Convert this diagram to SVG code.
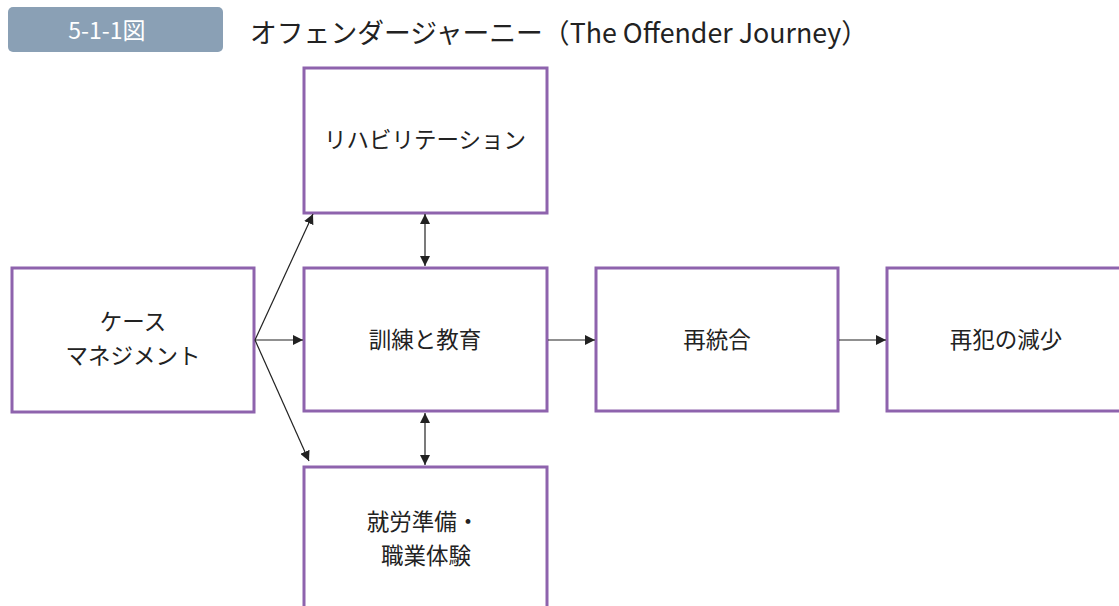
<svg xmlns="http://www.w3.org/2000/svg" width="1119" height="606" viewBox="0 0 1119 606">
<style>
.box{fill:#fff;stroke:#8e63ad;stroke-width:3}
.t{font-family:"Noto Sans CJK JP","Noto Sans",sans-serif;font-size:22.5px;fill:#222;text-anchor:middle}
.c{stroke:#222;stroke-width:1.2;fill:none}
</style>
<defs>
<marker id="ah" viewBox="0 0 10 10" refX="10" refY="5" markerWidth="10" markerHeight="10" markerUnits="userSpaceOnUse" orient="auto-start-reverse">
<path d="M0,0 L10,5 L0,10 z" fill="#222"/>
</marker>
</defs>
<rect width="1119" height="606" fill="#fff"/>
<g id="header">
<rect x="8" y="7" width="215" height="45" rx="5" fill="#8aa0b5"/>
<text x="107" y="39" font-family="'Noto Sans CJK JP','Noto Sans',sans-serif" font-size="23" fill="#fff" text-anchor="middle">5-1-1図</text>
<text x="250" y="43" font-family="'Noto Sans CJK JP','Noto Sans',sans-serif" font-size="27" fill="#222" textLength="618" lengthAdjust="spacingAndGlyphs">オフェンダージャーニー（The Offender Journey）</text>
</g>
<g id="n-rehab">
<rect class="box" x="304" y="68" width="243" height="145"/>
<text class="t" x="425" y="148">リハビリテーション</text>
</g>
<g id="n-case">
<rect class="box" x="12" y="268" width="242" height="144"/>
<text class="t" x="133" y="330">ケース</text>
<text class="t" x="133" y="364">マネジメント</text>
</g>
<g id="n-train">
<rect class="box" x="304" y="268" width="243" height="143"/>
<text class="t" x="425" y="348">訓練と教育</text>
</g>
<g id="n-reint">
<rect class="box" x="596" y="268" width="242" height="143"/>
<text class="t" x="717" y="348">再統合</text>
</g>
<g id="n-reduce">
<rect class="box" x="887" y="268" width="245" height="143"/>
<text class="t" x="1006" y="348">再犯の減少</text>
</g>
<g id="n-work">
<rect class="box" x="304" y="467" width="243" height="150"/>
<text class="t" x="423" y="530">就労準備・</text>
<text class="t" x="426" y="564">職業体験</text>
</g>
<g id="connectors">
<line class="c" x1="255" y1="340" x2="313" y2="214" marker-end="url(#ah)"/>
<line class="c" x1="255" y1="340" x2="303" y2="340" marker-end="url(#ah)"/>
<line class="c" x1="255" y1="340" x2="309" y2="461" marker-end="url(#ah)"/>
<line class="c" x1="425" y1="214" x2="425" y2="266" marker-start="url(#ah)" marker-end="url(#ah)"/>
<line class="c" x1="425" y1="413" x2="425" y2="465" marker-start="url(#ah)" marker-end="url(#ah)"/>
<line class="c" x1="548" y1="340" x2="595" y2="340" marker-end="url(#ah)"/>
<line class="c" x1="839" y1="340" x2="886" y2="340" marker-end="url(#ah)"/>
</g>
</svg>
